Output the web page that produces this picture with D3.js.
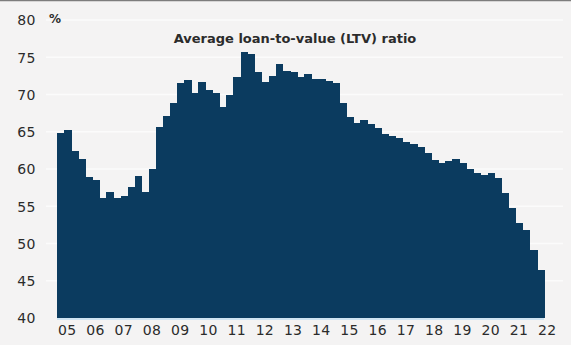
<!DOCTYPE html>
<html>
<head>
<meta charset="utf-8">
<script src="https://cdn.jsdelivr.net/npm/d3@7"></script>
<style>
  html, body { margin: 0; padding: 0; background: #f4f3f3; }
  svg { display: block; }
  text { font-family: "DejaVu Sans", sans-serif; fill: #2b2b2b; }
</style>
</head>
<body>
<svg id="chart" width="571" height="345"></svg>
<script>
// Quarterly average LTV ratio (%), 2005 Q1 – 2022 Q1
const years = ["05","06","07","08","09","10","11","12","13","14","15","16","17","18","19","20","21","22"];
const quarters = ["Q1","Q2","Q3","Q4"];
const ltv = [
  64.8, 65.3, 62.4, 61.3,   // 2005
  58.9, 58.5, 56.1, 56.9,   // 2006
  56.1, 56.4, 57.6, 59.1,   // 2007
  56.9, 60.0, 65.6, 67.1,   // 2008
  68.9, 71.5, 71.9, 70.2,   // 2009
  71.7, 70.6, 70.2, 68.3,   // 2010
  70.0, 72.3, 75.7, 75.4,   // 2011
  73.0, 71.7, 72.5, 74.1,   // 2012
  73.2, 73.0, 72.3, 72.7,   // 2013
  72.1, 72.1, 71.8, 71.6,   // 2014
  68.9, 67.0, 66.2, 66.6,   // 2015
  66.0, 65.5, 64.7, 64.4,   // 2016
  64.1, 63.6, 63.4, 62.9,   // 2017
  62.1, 61.2, 60.8, 61.1,   // 2018
  61.3, 60.8, 60.0, 59.5,   // 2019
  59.2, 59.5, 58.8, 56.8,   // 2020
  54.8, 52.8, 51.8, 49.1,   // 2021
  46.4                      // 2022
];
const yTicks = [40, 45, 50, 55, 60, 65, 70, 75, 80];
const title = "Average loan-to-value (LTV) ratio";

// one band per quarter
const periods = ltv.map((v, i) => years[Math.floor(i / 4)] + quarters[i % 4]);

const svg = d3.select("#chart");
const W = 571, H = 345;
const m = { left: 57, right: 27, top: 20, bottom: 27 };

const x = d3.scaleBand().domain(periods).range([m.left, W - m.right]).paddingInner(0).paddingOuter(0);
const y = d3.scaleLinear().domain([40, 80]).range([H - m.bottom, m.top]);

// top rule
svg.append("line").attr("x1", 0).attr("x2", W).attr("y1", 0.5).attr("y2", 0.5)
  .attr("stroke", "#7d7d7d").attr("stroke-width", 1.5);

// horizontal grid
svg.append("g").selectAll("line").data(yTicks.slice(1)).join("line")
  .attr("x1", 46).attr("x2", W - 8)
  .attr("y1", d => y(d)).attr("y2", d => y(d))
  .attr("stroke", "#fbfbfb").attr("stroke-width", 1.5);

// bars, drawn edge to edge with no seams
svg.append("g").attr("shape-rendering", "crispEdges")
  .selectAll("rect").data(ltv).join("rect")
  .attr("x", (d, i) => x(periods[i]))
  .attr("width", x.bandwidth() + 0.6)
  .attr("y", d => y(d))
  .attr("height", d => y(40) - y(d))
  .attr("fill", "#0b3b5f");

// baseline
svg.append("line").attr("x1", m.left).attr("x2", W - m.right)
  .attr("y1", y(40) + 1).attr("y2", y(40) + 1)
  .attr("stroke", "#cfe4f2").attr("stroke-width", 2);

// y axis labels
const yAxis = d3.axisLeft(y).tickValues(yTicks).tickSize(0).tickPadding(0);
const gy = svg.append("g").attr("transform", "translate(36,0)").call(yAxis);
gy.select(".domain").remove();
gy.selectAll("text").attr("font-size", 14).attr("font-family", "DejaVu Sans, sans-serif")
  .attr("letter-spacing", "0.5px").attr("fill", "#333").attr("dy", "0.35em");

svg.append("text").attr("x", 49).attr("y", y(80) + 3).attr("font-size", 12)
  .attr("font-weight", "bold").attr("fill", "#444").text("%");

// x axis year labels, one per year near its first quarters
const xAxis = d3.axisBottom(x)
  .tickValues(periods.filter((p, i) => i % 4 === 0))
  .tickFormat(p => p.slice(0, 2))
  .tickSize(0).tickPadding(0);
const gx = svg.append("g").attr("transform", `translate(${x.bandwidth() * 0.95},${y(40) + 12})`).call(xAxis);
gx.select(".domain").remove();
gx.selectAll("text").attr("font-size", 14).attr("font-family", "DejaVu Sans, sans-serif")
  .attr("letter-spacing", "0.3px").attr("fill", "#333").attr("dy", "0.35em");

// title
svg.append("text").attr("x", 295).attr("y", 43).attr("text-anchor", "middle")
  .attr("font-size", 13).attr("font-weight", "bold").attr("fill", "#333").text(title);
</script>
</body>
</html>
